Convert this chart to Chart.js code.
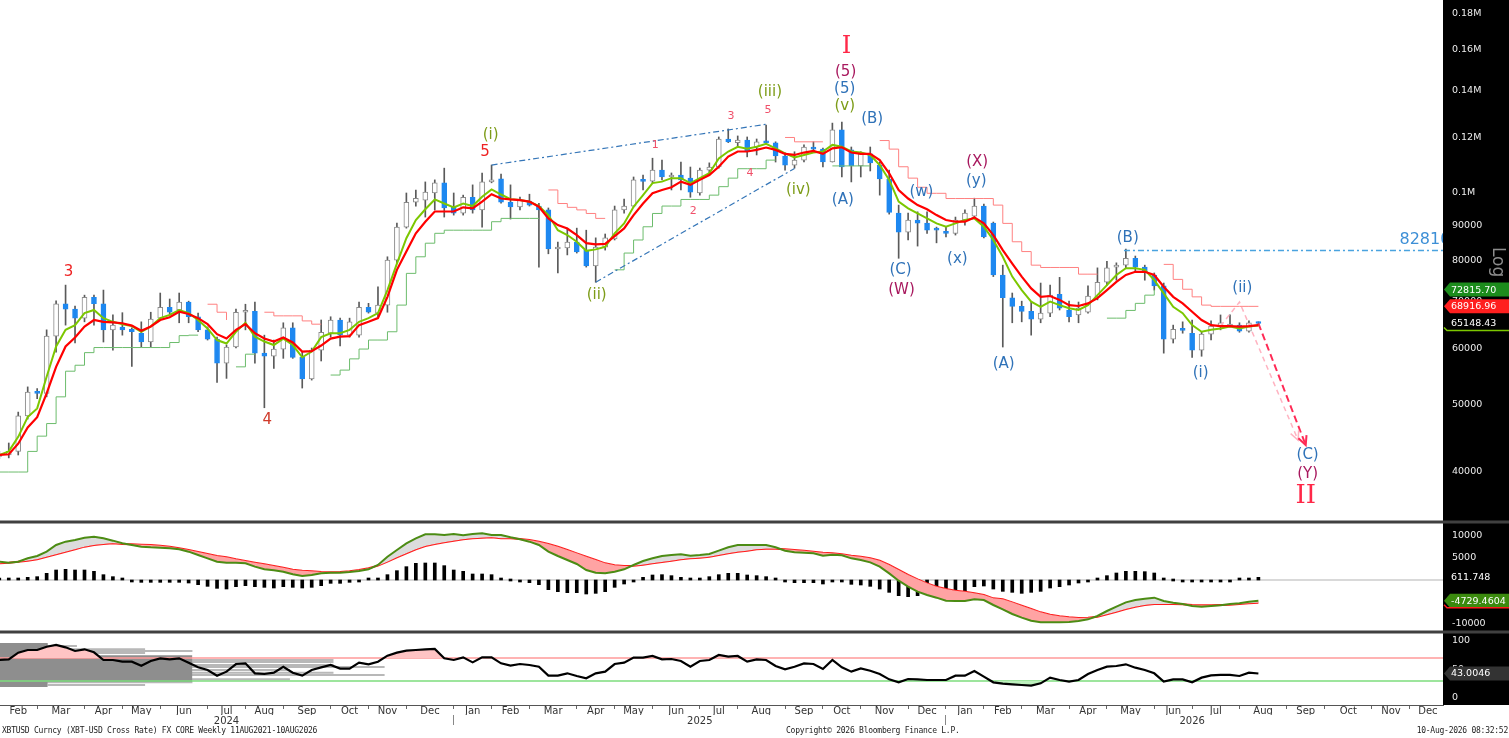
<!DOCTYPE html>
<html>
<head>
<meta charset="utf-8">
<title>XBTUSD Weekly</title>
<script src="https://cdn.jsdelivr.net/npm/chart.js@4.4.1/dist/chart.umd.min.js"></script>
<style>
  html, body { margin: 0; padding: 0; background: #fff; overflow: hidden; }
  #box { position: relative; width: 1509px; height: 738px; }
  #chart { position: absolute; left: 0; top: 0; }
  .foot { position: absolute; top: 726px; font: 8px "DejaVu Sans Mono", monospace; letter-spacing: -0.25px; color: #222; white-space: nowrap; }
</style>
</head>
<body>
<div id="box">
  <canvas id="chart" width="1509" height="738"></canvas>
  <div class="foot" style="left:2px">XBTUSD Curncy (XBT-USD Cross Rate) FX CORE Weekly 11AUG2021-10AUG2026</div>
  <div class="foot" style="left:786px">Copyright© 2026 Bloomberg Finance L.P.</div>
  <div class="foot" style="right:1px">10-Aug-2026 08:32:52</div>
</div>
<script>
// weekly bars, prices in thousands of USD, index 0 = first week shown (Feb 2024)
const opens = [
  42.1, 42.3, 42.8, 48.1, 52.0, 51.8, 62.5, 69.5, 68.3, 66.3,
  71.0, 69.5, 63.8, 64.4, 63.9, 63.1, 61.3, 66.3, 68.7, 68.1,
  69.9, 66.6, 63.8, 61.9, 57.2, 60.3, 67.6, 67.8, 59.1, 58.5,
  59.9, 64.2, 58.3, 54.3, 59.7, 63.1, 65.9, 62.7, 62.7, 68.7,
  67.4, 69.2, 80.2, 89.4, 97.0, 97.7, 100.0, 103.4, 95.5, 93.6,
  98.6, 94.6, 103.7, 104.8, 97.0, 95.5, 97.4, 95.8, 94.6, 83.2,
  83.5, 85.1, 82.9, 78.7, 83.7, 86.0, 94.6, 95.8, 104.4, 104.0,
  107.8, 105.4, 106.1, 105.0, 100.0, 107.8, 108.9, 119.4, 118.0, 119.0,
  116.3, 118.3, 117.9, 112.9, 109.6, 111.4, 115.9, 115.5, 110.7, 123.0,
  115.2, 109.3, 113.7, 109.6, 104.7, 93.6, 87.9, 91.5, 90.6, 88.8,
  88.2, 87.6, 91.5, 92.7, 95.8, 90.6, 76.4, 70.9, 68.9, 67.8,
  66.1, 67.4, 71.7, 68.1, 67.0, 67.6, 71.1, 74.6, 78.4, 78.9,
  80.7, 78.4, 76.4, 73.7, 61.9, 64.0, 63.1, 59.7, 62.9, 64.6,
  64.6, 64.8, 63.5, 65.2
];
const highs = [
  42.8, 44.0, 48.7, 52.9, 52.6, 63.8, 70.2, 73.9, 69.0, 71.5,
  71.5, 72.7, 67.0, 67.5, 64.2, 65.5, 67.6, 72.0, 70.6, 72.0,
  70.1, 67.4, 64.4, 62.3, 60.7, 68.3, 69.4, 69.9, 62.7, 61.7,
  65.3, 65.3, 59.3, 60.1, 65.9, 66.6, 66.3, 66.3, 69.9, 69.6,
  73.5, 81.1, 90.6, 100.0, 101.0, 103.7, 104.4, 108.5, 100.0, 99.3,
  102.7, 106.8, 109.6, 106.4, 102.7, 98.7, 99.6, 96.7, 95.2, 85.1,
  89.1, 89.1, 88.5, 86.3, 87.4, 95.8, 98.0, 105.4, 106.1, 112.1,
  111.4, 106.8, 110.7, 108.9, 108.5, 110.4, 120.2, 123.4, 120.6, 120.2,
  119.4, 125.0, 118.3, 114.1, 114.5, 117.1, 118.3, 115.9, 125.8, 126.2,
  116.3, 114.5, 116.3, 110.7, 107.8, 96.1, 93.6, 94.0, 94.0, 89.4,
  89.4, 92.4, 94.6, 98.3, 96.4, 90.9, 78.9, 72.0, 70.1, 69.9,
  74.4, 73.9, 75.8, 70.1, 69.9, 73.7, 78.2, 79.9, 79.5, 83.2,
  81.3, 78.9, 76.9, 74.4, 64.8, 65.5, 65.9, 63.3, 65.7, 67.0,
  67.0, 65.3, 65.7, 65.5
];
const lows = [
  41.8, 41.9, 42.3, 47.6, 50.9, 51.2, 59.3, 64.8, 61.1, 65.5,
  64.8, 61.3, 59.7, 62.7, 56.6, 60.3, 60.3, 65.9, 67.2, 65.3,
  65.3, 63.4, 61.7, 53.7, 54.4, 60.1, 63.8, 57.2, 49.4, 56.2,
  58.1, 58.1, 52.7, 54.1, 57.6, 62.3, 60.5, 62.3, 62.3, 67.4,
  66.6, 67.6, 79.5, 89.1, 95.8, 92.4, 94.6, 92.4, 93.0, 93.0,
  93.6, 89.4, 103.4, 96.7, 91.8, 94.6, 95.8, 78.4, 81.9, 76.9,
  81.6, 82.1, 78.4, 74.6, 82.9, 85.7, 93.6, 95.5, 101.0, 103.4,
  104.4, 101.0, 101.0, 98.6, 99.3, 106.1, 108.5, 118.0, 116.3, 112.6,
  113.3, 117.6, 110.7, 107.8, 108.5, 110.7, 114.5, 108.9, 110.7, 105.4,
  103.7, 105.4, 107.5, 99.3, 93.3, 80.7, 85.7, 84.0, 87.6, 84.9,
  86.6, 87.1, 90.0, 92.4, 86.3, 76.0, 60.3, 65.3, 65.5, 62.7,
  65.3, 66.6, 68.1, 65.5, 65.3, 67.4, 70.4, 73.9, 75.1, 78.2,
  77.0, 75.1, 72.7, 59.1, 61.1, 63.1, 58.3, 58.5, 61.7, 63.8,
  64.4, 63.3, 63.3, 64.9
];
const closes = [
  42.3, 42.8, 48.1, 52.0, 51.8, 62.5, 69.5, 68.3, 66.3, 71.0,
  69.5, 63.8, 64.8, 63.8, 63.4, 61.3, 66.1, 68.7, 67.6, 69.9,
  66.6, 63.8, 61.9, 57.2, 60.3, 67.6, 67.8, 59.1, 58.5, 59.9,
  64.2, 58.3, 54.3, 59.7, 63.3, 65.9, 62.7, 65.5, 68.7, 67.6,
  69.2, 80.2, 89.4, 97.0, 98.3, 100.3, 103.4, 95.2, 93.6, 98.6,
  94.6, 103.7, 104.4, 97.0, 95.5, 97.7, 96.1, 94.6, 83.2, 83.5,
  85.1, 82.4, 78.7, 83.7, 86.3, 94.6, 95.8, 104.4, 103.9, 107.8,
  105.4, 106.1, 104.4, 100.3, 107.8, 108.9, 119.4, 118.3, 119.0, 114.5,
  118.3, 117.9, 112.9, 109.6, 111.4, 116.3, 115.5, 110.7, 123.0, 108.9,
  109.3, 113.7, 110.4, 104.7, 93.8, 87.9, 91.5, 90.6, 88.5, 88.5,
  87.6, 91.5, 93.6, 95.8, 86.6, 76.4, 70.9, 68.9, 67.8, 66.1,
  67.4, 71.5, 68.5, 66.6, 68.5, 71.3, 74.6, 78.2, 78.9, 80.7,
  78.4, 77.2, 73.7, 61.9, 63.9, 63.7, 59.7, 62.9, 64.6, 65.3,
  65.0, 63.5, 65.3, 65.14843
];
// fast (green) and slow (red) moving averages as drawn
const maFast = [
  42.3, 42.8, 44.9, 47.9, 49.3, 54.7, 60.4, 63.8, 64.8, 67.4,
  68.1, 66.3, 65.5, 65.0, 64.6, 63.4, 64.5, 66.3, 67.0, 68.1,
  67.4, 65.9, 64.1, 61.7, 61.0, 63.4, 65.3, 62.4, 61.4, 60.7,
  62.0, 60.7, 58.3, 59.4, 62.3, 63.1, 63.1, 63.8, 65.5, 66.3,
  67.4, 72.7, 79.3, 86.2, 91.5, 94.8, 97.9, 96.6, 95.4, 96.6,
  95.8, 98.8, 101.2, 99.5, 98.0, 97.7, 97.2, 95.8, 93.0, 88.5,
  87.1, 85.2, 82.7, 83.1, 83.8, 87.6, 90.5, 95.6, 99.3, 103.3,
  103.8, 105.0, 105.0, 103.3, 105.0, 106.7, 112.0, 114.6, 116.4, 115.6,
  116.4, 117.5, 115.8, 113.9, 112.4, 113.3, 114.2, 114.6, 117.1, 116.4,
  114.6, 114.2, 113.3, 109.6, 104.4, 97.2, 95.1, 93.5, 92.0, 90.5,
  89.5, 90.5, 91.5, 92.0, 89.5, 85.7, 81.1, 76.0, 72.7, 70.0,
  68.8, 70.0, 69.2, 68.5, 68.1, 69.2, 71.5, 73.9, 76.4, 78.1,
  78.1, 77.7, 75.1, 71.9, 68.8, 67.4, 64.8, 63.4, 63.8, 64.1,
  64.5, 64.1, 64.5, 64.7
];
const maSlow = [
  42.3, 42.4, 43.9, 46.3, 47.9, 51.8, 56.5, 60.4, 62.2, 64.5,
  65.9, 65.5, 65.4, 65.2, 64.7, 63.6, 64.5, 65.9, 66.5, 67.7,
  67.2, 66.3, 65.0, 62.9, 62.0, 63.8, 65.0, 63.1, 62.0, 61.4,
  62.2, 61.2, 59.4, 59.5, 60.6, 62.0, 62.4, 62.5, 64.8, 65.5,
  66.3, 71.1, 77.7, 82.5, 87.6, 91.0, 94.1, 94.1, 94.1, 95.4,
  95.1, 97.2, 99.6, 98.2, 97.9, 97.7, 97.2, 95.6, 92.0, 90.0,
  89.0, 87.1, 84.8, 84.5, 84.6, 86.8, 89.0, 93.0, 96.6, 99.9,
  101.0, 101.9, 103.8, 102.7, 104.4, 106.1, 109.0, 112.7, 114.6, 114.6,
  115.2, 116.1, 115.2, 113.7, 113.3, 114.2, 114.8, 113.7, 115.8, 116.2,
  114.2, 113.7, 113.7, 111.4, 106.7, 101.0, 98.2, 96.1, 94.8, 93.0,
  91.5, 91.0, 91.0, 92.3, 90.5, 87.1, 82.9, 79.3, 76.0, 73.1,
  71.1, 71.3, 70.4, 69.2, 69.0, 69.6, 70.8, 72.7, 74.7, 76.4,
  77.2, 77.2, 76.4, 73.5, 71.1, 69.6, 67.7, 65.9, 64.8, 64.6,
  64.6, 64.5, 64.6, 64.8
];
// trailing stop steps: green below price, pink above price
const stairLow = [
  40.0, 40.0, 40.0, 42.8, 45.0, 46.9, 51.2, 55.7, 56.8, 59.2,
  60.2, 60.2, 60.2, 60.2, 60.2, 60.2, 60.2, 60.2, 61.2, 62.6,
  62.7, 62.7, null, null, null, 56.5, 58.9, 58.9, null, null,
  null, null, null, null, null, 55.0, 55.9, 58.0, 59.9, 61.7,
  61.7, 63.4, 69.2, 76.8, 81.1, 84.8, 87.6, 88.5, 88.5, 88.5,
  88.5, 88.5, 91.0, 92.0, 92.0, 92.0, 92.0, 92.0, null, null,
  null, null, null, null, null, 77.7, 82.1, 85.7, 89.5, 93.5,
  95.8, 95.8, 97.9, 97.9, 97.9, 99.3, 102.1, 105.0, 108.3, 108.3,
  108.3, 111.4, 111.4, null, null, null, null, null, 109.3, 109.3,
  109.3, 109.3, 109.3, null, null, null, null, null, null, null,
  null, null, null, null, null, null, null, null, null, null,
  null, null, null, null, null, null, null, 66.3, 66.3, 68.0,
  69.6, 71.5, 72.8157, null, null, null, null, null, null, null,
  null, null, null, null
];
const stairHigh = [
  null, null, null, null, null, null, null, null, null, null,
  null, null, null, null, null, null, null, null, null, null,
  null, null, 69.4, 67.6, 65.9, null, null, null, 67.6, 66.8,
  66.8, 66.8, 65.7, 65.0, 65.0, null, null, null, null, null,
  null, null, null, null, null, null, null, null, null, null,
  null, null, null, null, null, null, null, null, 101.0, 96.6,
  95.4, 94.6, 93.5, 92.0, 92.0, null, null, null, null, null,
  null, null, null, null, null, null, null, null, null, null,
  null, null, null, 120.0, 118.3, 118.3, 118.3, 118.3, null, null,
  null, null, null, 118.8, 115.5, 109.0, 105.0, 101.9, 99.9, 99.9,
  98.2, 98.2, 98.2, 98.2, 98.2, 96.1, 90.5, 85.2, 82.5, 78.9,
  78.3, 78.3, 78.3, 78.3, 76.6, 76.6, 76.6, null, null, null,
  null, null, null, 79.1, 75.3, 72.9, 71.1, 69.2, 68.91696, 68.91696,
  68.91696, 68.91696, 68.91696, 68.91696
];
// MACD pane
const macd = [
  4167, 3940, 4167, 4925, 5455, 6440, 7956, 8713, 9092, 9623,
  9850, 9471, 8941, 8335, 7956, 7577, 7425, 7350, 7198, 6971,
  6440, 5683, 4925, 4167, 3940, 3940, 3789, 3031, 2425, 2197,
  1894, 1288, 909, 1137, 1515, 1667, 1667, 1818, 2046, 2425,
  3410, 5304, 6819, 8335, 9471, 10380, 10380, 10229, 10456, 10153,
  10456, 10608, 10229, 10229, 9699, 9244, 8714, 7956, 6440, 5455,
  4546, 3637, 2273, 1667, 1515, 1894, 2425, 3410, 4319, 4925,
  5455, 5683, 5834, 5531, 5683, 5910, 6668, 7425, 7956, 7956,
  7956, 7956, 7425, 6668, 6289, 6213, 6062, 5531, 5759, 5607,
  4925, 4546, 4016, 3031, 1515, -152, -1515, -2652, -3410, -4016,
  -4698, -4773, -4773, -4395, -4546, -5683, -6668, -7729, -8562, -9244,
  -9623, -9623, -9623, -9547, -9320, -8941, -8183, -7047, -6062, -5077,
  -4546, -4243, -4016, -4773, -5152, -5455, -5910, -6062, -5910, -5759,
  -5455, -5304, -4925, -4729.4604
];
const signal = [
  3789, 3940, 4167, 4395, 4698, 5304, 5834, 6440, 6971, 7577,
  7956, 8183, 8335, 8183, 8107, 8032, 7956, 7804, 7577, 7198,
  6819, 6365, 5910, 5455, 5152, 4698, 4319, 3940, 3561, 3182,
  2804, 2349, 2122, 1970, 1818, 1743, 1818, 1970, 2273, 2652,
  3258, 4167, 5152, 6061, 6971, 7728, 8183, 8562, 8941, 9244,
  9471, 9623, 9698, 9471, 9471, 9320, 9092, 8714, 8183, 7577,
  6819, 6062, 5304, 4546, 3789, 3334, 3182, 3258, 3485, 3789,
  4092, 4395, 4698, 4925, 5077, 5304, 5683, 6062, 6440, 6668,
  6971, 7122, 7122, 6971, 6819, 6668, 6440, 6213, 6062, 5834,
  5531, 5304, 4925, 4395, 3410, 2273, 1137, 152, -758, -1515,
  -2046, -2425, -2652, -3031, -3410, -4167, -4395, -5077, -5834, -6592,
  -7350, -7880, -8259, -8486, -8638, -8562, -8335, -7804, -7198, -6592,
  -6062, -5683, -5455, -5455, -5455, -5531, -5683, -5759, -5759, -5683,
  -5607, -5455, -5304, -5152
];
const hist = [
  100, 76, 227, 606, 758, 1516, 2273, 2425, 2273, 2273,
  1970, 1212, 758, 76, -76, -530, -530, -530, -530, -530,
  -682, -1061, -1440, -1894, -2046, -1516, -1288, -1516, -1667, -1818,
  -1516, -1667, -1818, -1667, -1288, -758, -758, -530, -150, 76,
  227, 1212, 2122, 3031, 3789, 3865, 3865, 3259, 2273, 1970,
  1364, 1364, 1212, 150, 0, -379, -606, -1061, -2198, -2652,
  -2880, -2880, -3183, -3032, -2652, -1668, -910, -76, 606, 1137,
  1213, 985, 606, 455, 455, 758, 1213, 1516, 1516, 1137,
  985, 758, 150, -303, -606, -606, -606, -910, -303, -379,
  -985, -1137, -1440, -2047, -2805, -3563, -3790, -3563, -3183, -3563,
  -3183, -2805, -2426, -1516, -1364, -2047, -2577, -2805, -3032, -2805,
  -2577, -1819, -1516, -1137, -682, -303, 227, 985, 1592, 1971,
  1971, 1895, 1592, 455, 0, -152, -303, -303, -152, -152,
  -76, 76, 227, 611.748
];
// RSI pane
const rsi = [
  66.7, 67.8, 79.5, 84.2, 84.2, 90.0, 93.0, 88.9, 82.5, 85.4,
  80.2, 66.7, 66.7, 63.7, 63.7, 56.7, 64.9, 69.6, 67.8, 69.6,
  62.0, 53.8, 49.1, 39.2, 46.2, 59.6, 60.8, 43.3, 42.1, 44.4,
  54.9, 44.4, 39.2, 49.1, 53.8, 57.9, 51.5, 51.5, 62.0, 59.1,
  63.7, 74.3, 79.5, 83.0, 84.2, 85.4, 86.0, 69.6, 66.7, 71.3,
  62.5, 71.3, 71.3, 60.8, 56.7, 59.6, 57.9, 54.9, 39.2, 39.2,
  43.3, 38.6, 34.5, 43.3, 46.2, 59.6, 62.0, 70.8, 70.8, 73.7,
  67.8, 68.4, 64.9, 54.9, 64.9, 66.7, 75.4, 72.5, 73.7, 63.7,
  67.8, 66.7, 56.1, 50.3, 54.9, 60.8, 59.6, 50.9, 66.7, 53.8,
  46.2, 52.0, 47.9, 42.1, 32.7, 27.5, 33.3, 32.7, 31.6, 31.6,
  31.6, 39.2, 39.2, 47.4, 37.4, 27.5, 25.1, 24.0, 22.8, 21.6,
  25.7, 35.7, 31.6, 28.7, 31.6, 42.1, 49.1, 54.9, 56.1, 59.1,
  53.2, 49.1, 43.3, 28.7, 32.7, 32.7, 27.5, 35.7, 39.8, 40.4,
  40.4, 38.6, 44.4, 43.0046
];
// grey price-distribution bars in the RSI pane (levels, week spans)
const profLevel = [94.7, 91.2, 85.4, 82.5, 78.9, 66.7, 63.2, 57.9, 54.4, 49.1, 44.4, 40.4, 37.4, 32.8, 27.5, 22.8];
const profFrom  = [0, 0, 0, 0, 0, 0, 0, 0, 0, 0, 0, 0, 5.1, 0, 0, 5.1];
const profTo    = [5.1, 8.2, 15.4, 20.4, 15.4, 35.3, 35.3, 35.3, 40.7, 30.7, 35.3, 40.7, 15.4, 30.7, 20.4, 15.4];
const blockX = [0, 5.1, 20.4];
const blockTop = [96.5, 75.0, 75.0];
const blockBottom = [19.3, 28.0, 28.0];

// wave-count drawings
const trendUpperX = [52, 81], trendUpperY = [109.6, 125.3];
const trendLowerX = [63, 84], trendLowerY = [74.6, 108.4];
const levelB = 82.81, levelBFrom = 118.8;
const pathRedX = [133, 138], pathRedY = [65.15, 43.7];
const pathPinkX = [129, 131, 137.2], pathPinkY = [64.6, 69.9, 44.4];

// axis labels
const monthNames = ['Feb','Mar','Apr','May','Jun','Jul','Aug','Sep','Oct','Nov','Dec',
  'Jan','Feb','Mar','Apr','May','Jun','Jul','Aug','Sep','Oct','Nov','Dec',
  'Jan','Feb','Mar','Apr','May','Jun','Jul','Aug','Sep','Oct','Nov','Dec'];
const monthStart = [0,4,9,13,17,22,26,30,35,39,43,48,52,56,61,65,69,74,78,83,87,91,96,
  100,104,108,113,117,122,126,131,136,140,145,149];
const MONTH_END = 152.8;
const yearNames = ['2024', '2025', '2026'];
const yearStart = [0, 48, 100, 152];
const priceTicks = [40, 50, 60, 70, 80, 90, 100, 120, 140, 160, 180];
const macdTicks = [-10000, 5000, 10000];
const rsiTicks = [0, 50, 100];

const OLIVE = '#7d9c18', BLUE = '#2f72b8', MAROON = '#a8185e', PINK = '#f0506a', RED = '#ee2222', ROMAN = '#ff2848';
const waveLabels = [
  ['3', 7.3, 77.2, RED, 15], ['4', 28.3, 47.4, '#d03a2a', 15],
  ['5', 51.3, 114.4, RED, 15], ['(i)', 51.9, 121.0, OLIVE, 15],
  ['(ii)', 63.1, 71.5, OLIVE, 15],
  ['1', 69.3, 117.1, PINK, 11], ['2', 73.3, 94.3, PINK, 11], ['3', 77.3, 128.8, PINK, 11],
  ['4', 79.3, 106.8, PINK, 11], ['5', 81.2, 131.4, PINK, 11],
  ['(iii)', 81.4, 139.1, OLIVE, 15], ['(iv)', 84.4, 101.0, OLIVE, 15], ['(v)', 89.3, 132.9, OLIVE, 15],
  ['(5)', 89.3, 140.6, BLUE, 15], ['(5)', 89.4, 148.7, MAROON, 15], ['I', 89.5, 161.7, ROMAN, 24, true],
  ['(B)', 92.2, 127.6, BLUE, 15], ['(A)', 89.1, 97.7, BLUE, 15], ['(w)', 97.4, 100.3, BLUE, 15],
  ['(C)', 95.2, 77.7, BLUE, 15], ['(W)', 95.3, 72.7, MAROON, 15], ['(x)', 101.2, 80.5, BLUE, 15],
  ['(y)', 103.2, 104.0, BLUE, 15], ['(X)', 103.3, 110.7, MAROON, 15], ['(A)', 106.1, 57.0, BLUE, 15],
  ['(B)', 119.2, 86.3, BLUE, 15], ['(ii)', 131.3, 73.2, BLUE, 15], ['(i)', 126.9, 55.4, BLUE, 15],
  ['(C)', 138.2, 42.3, BLUE, 15], ['(Y)', 138.2, 39.7, MAROON, 15], ['II', 138.0, 37.0, ROMAN, 26, true]
];

const FONT = '"DejaVu Sans", Verdana, sans-serif';
const X_MIN = 0.074, X_MAX = 152.5;
const last = closes.length - 1;

const tags = [
  { axis: 'y', v: stairLow[122], text: '72815.70', bg: '#1c8c1c' },
  { axis: 'y', v: stairHigh[last], text: '68916.96', bg: '#ff1f1f' },
  { axis: 'y', v: closes[last], text: '65148.43', under: '#7cc700' },
  { axis: 'y2', v: hist[last], text: '611.748' },
  { axis: 'y2', v: macd[last], text: '-4729.4604', bg: '#3b8a0e', under: '#ff1a1a' },
  { axis: 'y3', v: rsi[last], text: '43.0046', bg: '#333333' }
];

// month ticks: boundary marks + centred labels
const monthTicks = [];
const monthLabelAt = new Map();
monthNames.forEach((m, i) => {
  const a = monthStart[i];
  const b = i + 1 < monthStart.length ? monthStart[i + 1] : MONTH_END;
  monthTicks.push(a, (a + b) / 2);
  monthLabelAt.set((a + b) / 2, m);
});
monthTicks.sort((p, q) => p - q);
const monthBoundary = new Set(monthStart);
const yearTicks = [];
const yearLabelAt = new Map();
yearNames.forEach((y, i) => {
  const c = (yearStart[i] + yearStart[i + 1]) / 2;
  yearLabelAt.set(c, y);
  yearTicks.push(c);
  if (i > 0) yearTicks.push(yearStart[i]);
});
yearTicks.sort((p, q) => p - q);

const pts = (xs, ys) => xs.map((x, i) => ({ x: x, y: ys[i] }));
const series = arr => arr.map((v, i) => ({ x: i, y: v }));
const flat = (v, yAxisID, color, width) => ({
  type: 'line', data: [{ x: X_MIN, y: v }, { x: X_MAX, y: v }], yAxisID: yAxisID,
  borderColor: color, borderWidth: width, pointRadius: 0, order: 18
});

const profData = [];
profLevel.forEach((lv, i) => {
  profData.push({ x: profFrom[i], y: lv }, { x: profTo[i], y: lv }, { x: profTo[i], y: null });
});

const isUp = i => closes[i] >= opens[i];

const datasets = [
  // main pane
  { type: 'bar', data: highs.map((h, i) => ({ x: i, y: [lows[i], h] })), yAxisID: 'y',
    backgroundColor: '#5a5a5a', barThickness: 1, grouped: false, order: 12 },
  { type: 'bar', data: opens.map((o, i) => ({ x: i, y: [Math.min(o, closes[i]), Math.max(o, closes[i])] })), yAxisID: 'y',
    backgroundColor: c => isUp(c.dataIndex) ? '#ffffff' : '#1e88f0',
    borderColor: c => isUp(c.dataIndex) ? '#8a8a8a' : '#1e88f0',
    borderWidth: 1, borderSkipped: false, barThickness: 5, minBarLength: 2, grouped: false, order: 11 },
  { type: 'line', data: series(stairLow), yAxisID: 'y', stepped: 'before', borderColor: '#6cbc6c', borderWidth: 1, pointRadius: 0, order: 7 },
  { type: 'line', data: series(stairHigh), yAxisID: 'y', stepped: 'before', borderColor: '#ff8080', borderWidth: 1, pointRadius: 0, order: 7 },
  { type: 'line', data: pts(trendUpperX, trendUpperY), yAxisID: 'y', borderColor: '#3576b8', borderWidth: 1.2, borderDash: [6, 3, 2, 3], pointRadius: 0, order: 6 },
  { type: 'line', data: pts(trendLowerX, trendLowerY), yAxisID: 'y', borderColor: '#3576b8', borderWidth: 1.2, borderDash: [6, 3, 2, 3], pointRadius: 0, order: 6 },
  { type: 'line', data: [{ x: levelBFrom, y: levelB }, { x: X_MAX, y: levelB }], yAxisID: 'y', borderColor: '#4aa3df', borderWidth: 1.5, borderDash: [6, 3, 2, 3], pointRadius: 0, order: 6 },
  { type: 'line', data: pts(pathPinkX, pathPinkY), yAxisID: 'y', borderColor: '#ffb3c1', borderWidth: 1.5, borderDash: [5, 4], pointRadius: 0, order: 5, arrowHead: true },
  { type: 'line', data: pts(pathRedX, pathRedY), yAxisID: 'y', borderColor: '#ff2a55', borderWidth: 2, borderDash: [7, 4], pointRadius: 0, order: 4, arrowHead: true },
  { type: 'line', data: series(maFast), yAxisID: 'y', borderColor: '#7cc700', borderWidth: 2, pointRadius: 0, order: 2 },
  { type: 'line', data: series(maSlow), yAxisID: 'y', borderColor: '#ff0000', borderWidth: 2.2, pointRadius: 0, order: 1 },
  // MACD pane
  { type: 'bar', data: series(hist), yAxisID: 'y2', backgroundColor: '#000', barThickness: 3, minBarLength: 2, grouped: false, order: 12 },
  flat(0, 'y2', '#d9d9d9', 2),
  { type: 'line', data: series(signal), yAxisID: 'y2', borderColor: '#ff1c1c', borderWidth: 2, pointRadius: 0, order: 3 },
  { type: 'line', data: series(macd), yAxisID: 'y2', borderColor: '#4c8c14', borderWidth: 2, pointRadius: 0, order: 2,
    fill: { target: '-1', above: '#dcdcdc', below: '#ffa3a3' } },
  // RSI pane
  { type: 'line', data: profData, yAxisID: 'y3', borderColor: '#b8b8b8', borderWidth: 2, pointRadius: 0, order: 21 },
  { type: 'line', data: pts(blockX, blockTop), yAxisID: 'y3', stepped: 'before', borderWidth: 0, borderColor: 'rgba(0,0,0,0)', pointRadius: 0, order: 20 },
  { type: 'line', data: pts(blockX, blockBottom), yAxisID: 'y3', stepped: 'before', borderWidth: 0, borderColor: 'rgba(0,0,0,0)', pointRadius: 0, order: 20,
    fill: { target: '-1', above: '#8e8e8e', below: '#8e8e8e' } },
  flat(70, 'y3', '#ff9a9a', 1.5),
  flat(30, 'y3', '#7ddc7d', 1.5),
  { type: 'line', data: series(rsi), yAxisID: 'y3', borderWidth: 0, borderColor: 'rgba(0,0,0,0)', pointRadius: 0, order: 16,
    fill: { target: { value: 70 }, above: '#ffc4c4', below: 'rgba(0,0,0,0)' } },
  { type: 'line', data: series(rsi), yAxisID: 'y3', borderWidth: 0, borderColor: 'rgba(0,0,0,0)', pointRadius: 0, order: 16,
    fill: { target: { value: 30 }, above: 'rgba(0,0,0,0)', below: '#bdf0bd' } },
  { type: 'line', data: series(rsi), yAxisID: 'y3', borderColor: '#000', borderWidth: 2.2, pointRadius: 0, order: 1 }
];
datasets.forEach(d => { d.xAxisID = 'x'; });

const overlay = {
  id: 'overlay',
  beforeDraw(chart) {
    const { ctx, chartArea: a } = chart;
    ctx.save();
    ctx.fillStyle = '#000';
    ctx.fillRect(a.right, 0, chart.width - a.right, a.bottom);
    ctx.restore();
  },
  afterDatasetsDraw(chart) {
    const { ctx, chartArea: a, scales } = chart;
    const xs = scales.x, ys = scales.y;
    ctx.save();
    ctx.beginPath();
    ctx.rect(a.left, a.top, a.right - a.left, a.bottom - a.top);
    ctx.clip();
    chart.data.datasets.forEach((ds, i) => {
      if (!ds.arrowHead) return;
      const el = chart.getDatasetMeta(i).data;
      const p = el[el.length - 1], q = el[el.length - 2];
      const ang = Math.atan2(p.y - q.y, p.x - q.x);
      ctx.strokeStyle = ds.borderColor;
      ctx.lineWidth = ds.borderWidth;
      ctx.setLineDash([]);
      ctx.beginPath();
      ctx.moveTo(p.x - 10 * Math.cos(ang - 0.45), p.y - 10 * Math.sin(ang - 0.45));
      ctx.lineTo(p.x, p.y);
      ctx.lineTo(p.x - 10 * Math.cos(ang + 0.45), p.y - 10 * Math.sin(ang + 0.45));
      ctx.stroke();
    });
    ctx.textAlign = 'center';
    ctx.textBaseline = 'middle';
    waveLabels.forEach(([t, k, v, col, size, serif]) => {
      ctx.font = size + 'px ' + (serif ? '"DejaVu Serif", serif' : FONT);
      ctx.fillStyle = col;
      ctx.fillText(t, xs.getPixelForValue(k), ys.getPixelForValue(v));
    });
    ctx.textAlign = 'left';
    ctx.font = '16px ' + FONT;
    ctx.fillStyle = '#3d8fd6';
    ctx.fillText(String(Math.round(levelB * 1000)), xs.getPixelForValue(147.9), ys.getPixelForValue(85.7));
    ctx.restore();
  },
  afterDraw(chart) {
    const { ctx, chartArea: a, scales } = chart;
    ctx.save();
    ctx.fillStyle = '#404040';
    [scales.y.bottom, scales.y2.bottom].forEach(yb => ctx.fillRect(0, yb - 1.5, chart.width, 3));
    ctx.font = '9.5px ' + FONT;
    ctx.textBaseline = 'middle';
    ctx.textAlign = 'left';
    const x0 = a.right + 1;
    tags.forEach(t => {
      const y = scales[t.axis].getPixelForValue(t.v);
      if (t.bg) {
        ctx.fillStyle = t.bg;
        ctx.beginPath();
        ctx.moveTo(x0, y);
        ctx.lineTo(x0 + 6, y - 7);
        ctx.lineTo(chart.width, y - 7);
        ctx.lineTo(chart.width, y + 7);
        ctx.lineTo(x0 + 6, y + 7);
        ctx.closePath();
        ctx.fill();
      }
      if (t.under) {
        ctx.strokeStyle = t.under;
        ctx.lineWidth = 1.5;
        ctx.beginPath();
        ctx.moveTo(x0, y + 4);
        ctx.lineTo(x0 + 3, y + 7);
        ctx.lineTo(chart.width, y + 7);
        ctx.stroke();
      }
      ctx.fillStyle = '#fff';
      ctx.fillText(t.text, a.right + 8, y + 0.5);
    });
    ctx.translate(chart.width - 12, scales.y.getPixelForValue(79.7));
    ctx.rotate(Math.PI / 2);
    ctx.font = '17px ' + FONT;
    ctx.fillStyle = '#8c8c8c';
    ctx.textAlign = 'center';
    ctx.fillText('Log', 0, 0);
    ctx.restore();
  }
};

// no extra padding around axes: the panes fill the canvas edge to edge
const noPad = s => { s.paddingTop = 0; s.paddingBottom = 0; s.paddingLeft = 0; s.paddingRight = 0; };

const axisTickFont = { family: FONT, size: 9.5 };
const rightAxis = (extra) => Object.assign({
  position: 'right', stack: 'panes', bounds: 'data', beginAtZero: false,
  grid: { display: false, drawTicks: false, tickLength: 0 }, border: { display: false },
  ticks: { color: '#ececec', font: axisTickFont, padding: 9, autoSkip: false, callback: v => String(v) },
  afterFit: s => { s.width = 66; noPad(s); }
}, extra);

new Chart(document.getElementById('chart'), {
  type: 'bar',
  data: { datasets: datasets },
  plugins: [overlay],
  options: {
    responsive: false,
    animation: false,
    events: [],
    layout: { padding: { left: 0, right: 0, top: 0, bottom: 11 } },
    plugins: { legend: { display: false }, tooltip: { enabled: false } },
    scales: {
      x: {
        type: 'linear', axis: 'x', position: 'bottom', weight: 0, min: X_MIN, max: X_MAX, offset: false, bounds: 'data',
        grid: { display: true, drawOnChartArea: false, offset: false, tickLength: 4, lineWidth: 1,
          tickColor: c => (c.tick && monthBoundary.has(c.tick.value)) ? '#666' : 'rgba(0,0,0,0)' },
        border: { display: true, color: '#555' },
        ticks: { autoSkip: false, maxRotation: 0, padding: -4, color: '#333', font: { family: FONT, size: 10 },
          callback: v => monthLabelAt.get(v) || '' },
        afterBuildTicks: s => { s.ticks = monthTicks.map(v => ({ value: v })); },
        afterFit: s => { s.height = 10; noPad(s); }
      },
      xy: {
        type: 'linear', axis: 'x', position: 'bottom', weight: 1, min: X_MIN, max: X_MAX, offset: false, bounds: 'data',
        grid: { display: true, drawOnChartArea: false, offset: false, tickLength: 10, lineWidth: 1,
          tickColor: c => (c.tick && yearStart.includes(c.tick.value)) ? '#888' : 'rgba(0,0,0,0)' },
        border: { display: false },
        ticks: { autoSkip: false, maxRotation: 0, padding: -10, color: '#333', font: { family: FONT, size: 10 },
          callback: v => yearLabelAt.get(v) || '' },
        afterBuildTicks: s => { s.ticks = yearTicks.map(v => ({ value: v })); },
        afterFit: s => { s.height = 12; noPad(s); }
      },
      y: rightAxis({
        type: 'logarithmic', stackWeight: 522, min: 33.945, max: 188.47,
        ticks: { color: '#ececec', font: axisTickFont, padding: 9, autoSkip: false,
          callback: v => v >= 100 ? (v / 1000) + 'M' : String(Math.round(v * 1000)) },
        afterBuildTicks: s => { s.ticks = priceTicks.map(v => ({ value: v })); }
      }),
      y2: rightAxis({
        type: 'linear', stackWeight: 110, min: -11818, max: 13182,
        afterBuildTicks: s => { s.ticks = macdTicks.map(v => ({ value: v })); }
      }),
      y3: rightAxis({
        type: 'linear', stackWeight: 73, min: -12.3, max: 115.8,
        afterBuildTicks: s => { s.ticks = rsiTicks.map(v => ({ value: v })); }
      })
    }
  }
});
</script>
</body>
</html>
